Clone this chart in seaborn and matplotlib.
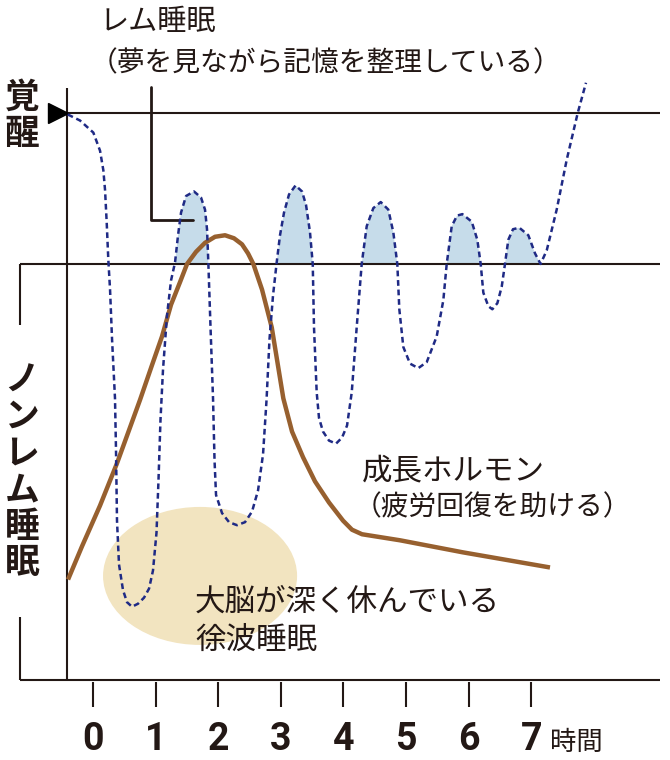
import numpy as np
import pandas as pd
import seaborn as sns
import matplotlib.pyplot as plt
from matplotlib.patches import Ellipse

# 睡眠の深さ: 0 = 覚醒, 100 = レム/ノンレムの境界, 大きいほど深い
sleep_hours = [-0.404, -0.208, 0.005, 0.112, 0.165, 0.192, 0.219, 0.244, 0.272, 0.304,
               0.351, 0.367, 0.383, 0.415, 0.479, 0.543, 0.623, 0.719, 0.815, 0.895,
               0.958, 1.014, 1.046, 1.078, 1.118, 1.182, 1.246, 1.310, 1.358, 1.406,
               1.486, 1.613, 1.725, 1.789, 1.821, 1.842, 1.877, 1.917, 1.941, 1.965,
               2.061, 2.173, 2.300, 2.428, 2.540, 2.636, 2.716, 2.772, 2.819, 2.875,
               2.934, 2.987, 3.051, 3.131, 3.235, 3.339, 3.403, 3.466, 3.510, 3.530,
               3.573, 3.610, 3.674, 3.770, 3.882, 3.978, 4.058, 4.133, 4.212, 4.292,
               4.372, 4.478, 4.596, 4.717, 4.797, 4.861, 4.893, 4.957, 5.064, 5.196,
               5.331, 5.490, 5.596, 5.650, 5.730, 5.815, 5.900, 6.050, 6.139, 6.193,
               6.235, 6.315, 6.379, 6.459, 6.529, 6.581, 6.634, 6.709, 6.810, 6.954,
               7.061, 7.149, 7.248, 7.407, 7.567, 7.743, 7.875]
sleep_depth = [1, 5, 13, 25, 38, 51, 73, 97, 117, 150,
               189, 223, 270, 299, 316, 324, 327, 325, 321, 315,
               303, 278, 243, 203, 170, 134, 111, 99, 81, 66,
               55, 52, 56, 64, 77, 99, 142, 189, 230, 253,
               265, 271, 273, 271, 264, 250, 226, 190, 150, 121,
               99, 81, 66, 54, 48, 52, 61, 79, 100, 142,
               185, 202, 211, 217, 219, 215, 207, 185, 142, 100,
               75, 63, 59, 64, 79, 100, 130, 155, 166, 169,
               165, 148, 124, 100, 75, 68, 67, 72, 84, 100,
               119, 128, 130, 126, 115, 100, 84, 77, 76, 81,
               93, 100, 91, 64, 31, 0, -20]

# 成長ホルモン (同じ縦軸に模式的に描く)
hormone_hours = [-0.399, -0.176, 0.112, 0.383, 0.751, 0.942, 1.102, 1.246, 1.390, 1.502,
                 1.645, 1.789, 1.949, 2.109, 2.252, 2.380, 2.476, 2.561, 2.700, 2.855,
                 3.040, 3.179, 3.355, 3.546, 3.770, 3.994, 4.137, 4.297, 4.904, 5.911, 7.300]
hormone_level = [309, 287, 260, 232, 190, 167, 148, 127, 112, 100,
                 92, 86, 82, 81, 83, 87, 93, 100, 117, 142,
                 189, 211, 228, 244, 258, 270, 276, 279, 283, 291, 301]

hour_ticks = [0, 1, 2, 3, 4, 5, 6, 7]

ink = "#231815"
navy = "#1f2a85"
brown = "#97602f"
rem_blue = "#c6dcea"
beige = "#f2e4c0"

sleep = pd.DataFrame({"hours": sleep_hours, "depth": sleep_depth})
hormone = pd.DataFrame({"hours": hormone_hours, "level": hormone_level})

sns.set_style("white")
plt.rcParams['font.family'] = ['Noto Sans CJK JP', 'DejaVu Sans']

fig = plt.figure(figsize=(6.7, 7.6), dpi=100)
ax = fig.add_axes([0, 0, 1, 1])
ax.set_xlim(-1.486, 9.217)
ax.set_ylim(428.5, -74.8)
ax.axis('off')

# 徐波睡眠の楕円
ax.add_patch(Ellipse((1.71, 306.6), 3.10, 91.4, color=beige, lw=0, zorder=0))

# レム睡眠の塗り
h = sleep["hours"].to_numpy()
d = sleep["depth"].to_numpy()
ax.fill_between(h, d, 100, where=(d < 100) & (h > 1) & (h < 7.2),
                interpolate=True, color=rem_blue, lw=0, zorder=1)

# 枠線
lw = 1.5
ax.hlines(0, -0.415, 9.06, color=ink, lw=lw, zorder=2)
ax.hlines([100, 375.5], -1.166, 9.06, color=ink, lw=lw, zorder=2)
ax.vlines(-0.415, -16.6, 375.5, color=ink, lw=lw, zorder=2)
ax.vlines(-1.166, 100, 140.4, color=ink, lw=lw, zorder=2)
ax.vlines(-1.166, 333.8, 375.5, color=ink, lw=lw, zorder=2)
ax.vlines(hour_ticks, 377, 393.4, color=ink, lw=lw, zorder=2)
ax.plot(-0.559, 0, marker='>', ms=14, color='black', zorder=3)

# レム睡眠の引き出し線
ax.plot([0.92, 0.92, 1.593], [-17.2, 70.9, 70.9], color=ink, lw=2, zorder=3)

# 成長ホルモン
sns.lineplot(data=hormone, x="hours", y="level", sort=False, estimator=None,
             color=brown, lw=3.2, ax=ax, zorder=4)
ax.lines[-1].set_solid_capstyle('butt')

# 睡眠の深さ
sns.lineplot(data=sleep, x="hours", y="depth", sort=False, estimator=None,
             color=navy, lw=1.8, ax=ax, zorder=5)
ax.lines[-1].set_dashes([2.3, 1.5])
ax.set_xlabel("")
ax.set_ylabel("")

# 目盛りラベル
for t in hour_ticks:
    ax.text(t, 415, str(t), ha='center', va='center', fontsize=27, fontweight='bold',
            family=['Roboto', 'DejaVu Sans'], color=ink)
ax.text(7.30, 417, "時間", ha='left', va='center', fontsize=19, color=ink)

# 文字
ax.text(0.112, -60.3, "レム睡眠", ha='left', va='center', fontsize=21, color=ink)
ax.text(-0.048, -33, "（夢を見ながら記憶を整理している）", ha='left', va='center',
        fontsize=20, color=ink)
ax.text(4.30, 237, "成長ホルモン", ha='left', va='center', fontsize=22, color=ink)
ax.text(4.17, 261, "（疲労回復を助ける）", ha='left', va='center', fontsize=20, color=ink)
ax.text(1.63, 324, "大脳が深く休んでいる", ha='left', va='center', fontsize=22, color=ink)
ax.text(1.63, 349, "徐波睡眠", ha='left', va='center', fontsize=22, color=ink)

for i, ch in enumerate("覚醒"):
    ax.text(-1.134, -10.6 + 24 * i, ch, ha='center', va='center', fontsize=25,
            fontweight='bold', color=ink)
for i, ch in enumerate("ノンレム睡眠"):
    ax.text(-1.134, 176.8 + 24.2 * i, ch, ha='center', va='center', fontsize=25,
            fontweight='bold', color=ink)

fig.savefig("out.png", dpi=100)
